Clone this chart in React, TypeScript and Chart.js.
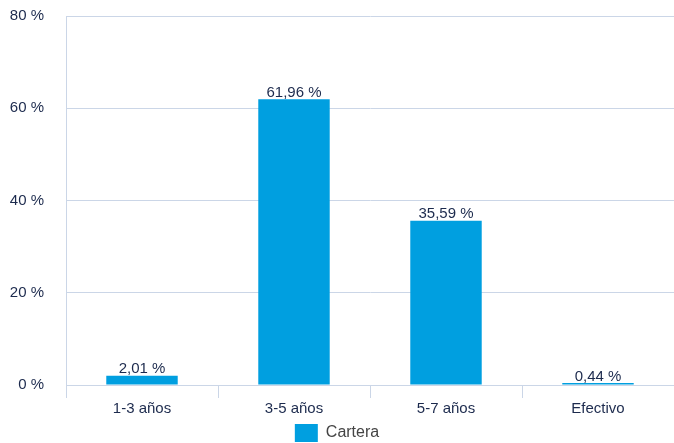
import React, { useEffect, useRef } from "react";
import { Chart, registerables } from "chart.js";

Chart.register(...registerables);

const categories = ["1-3 años", "3-5 años", "5-7 años", "Efectivo"];
const carteraValues = [2.01, 61.96, 35.59, 0.44];
const yTickValues = [0, 20, 40, 60, 80];
const seriesName = "Cartera";

const FONT = "'Liberation Sans', Arial, Helvetica, sans-serif";
const BAR_COLOR = "#009fe0";
const GRID_COLOR = "#cbd6e7";
const TEXT_COLOR = "#1c2a4d";

const fmt = (v: number) => v.toFixed(2).replace(".", ",") + " %";

const labelPlugin = {
  id: "barLabels",
  afterDatasetsDraw(chart: any) {
    const ctx = chart.ctx;
    const meta = chart.getDatasetMeta(0);
    const data = chart.data.datasets[0].data as number[];
    ctx.save();
    ctx.font = `15px ${FONT}`;
    ctx.textAlign = "center";
    ctx.textBaseline = "bottom";
    meta.data.forEach((el: any, i: number) => {
      const { x, y, width } = el.getProps(["x", "y", "width"], true);
      ctx.fillStyle = "#ffffff";
      ctx.fillRect(x - width / 2, y - 17, width, 16);
      ctx.fillStyle = TEXT_COLOR;
      ctx.fillText(fmt(data[i]), x, y + 1);
    });
    ctx.restore();
  },
};

export default function App() {
  const ref = useRef<HTMLCanvasElement>(null);
  useEffect(() => {
    if (!ref.current) return;
    const chart = new Chart(ref.current, {
      type: "bar",
      data: {
        labels: categories,
        datasets: [
          {
            label: seriesName,
            data: carteraValues,
            backgroundColor: BAR_COLOR,
            borderWidth: 0,
            barPercentage: 0.47,
            categoryPercentage: 1,
          },
        ],
      },
      options: {
        responsive: false,
        animation: false,
        layout: { padding: { top: 3, right: 0, left: 0, bottom: 0 } },
        plugins: {
          legend: {
            position: "bottom",
            labels: {
              boxWidth: 23,
              boxHeight: 18,
              padding: 4,
              color: "#444",
              font: { family: FONT, size: 16 },
            },
          },
          tooltip: { enabled: false },
        },
        scales: {
          x: {
            offset: true,
            grid: {
              offset: true,
              drawOnChartArea: false,
              drawTicks: true,
              tickLength: 13,
              color: GRID_COLOR,
            },
            border: { display: false },
            ticks: {
              color: TEXT_COLOR,
              font: { family: FONT, size: 15 },
              padding: 2,
            },
          },
          y: {
            min: 0,
            max: 80,
            afterBuildTicks: (scale: any) => {
              scale.ticks = yTickValues.map((v) => ({ value: v }));
            },
            afterFit: (scale: any) => {
              scale.width = 66;
            },
            grid: { color: GRID_COLOR, drawTicks: false },
            border: { display: true, color: GRID_COLOR },
            ticks: {
              color: TEXT_COLOR,
              font: { family: FONT, size: 15 },
              padding: 22,
              callback: (v: any) => v + " %",
            },
          },
        },
      },
      plugins: [labelPlugin],
    });
    return () => chart.destroy();
  }, []);
  return (
    <div style={{ position: "absolute", left: 0, top: 0, width: 674, height: 443, overflow: "hidden" }}>
      <canvas ref={ref} width={674} height={467} style={{ position: "absolute", left: 0, top: -15 }} />
    </div>
  );
}
